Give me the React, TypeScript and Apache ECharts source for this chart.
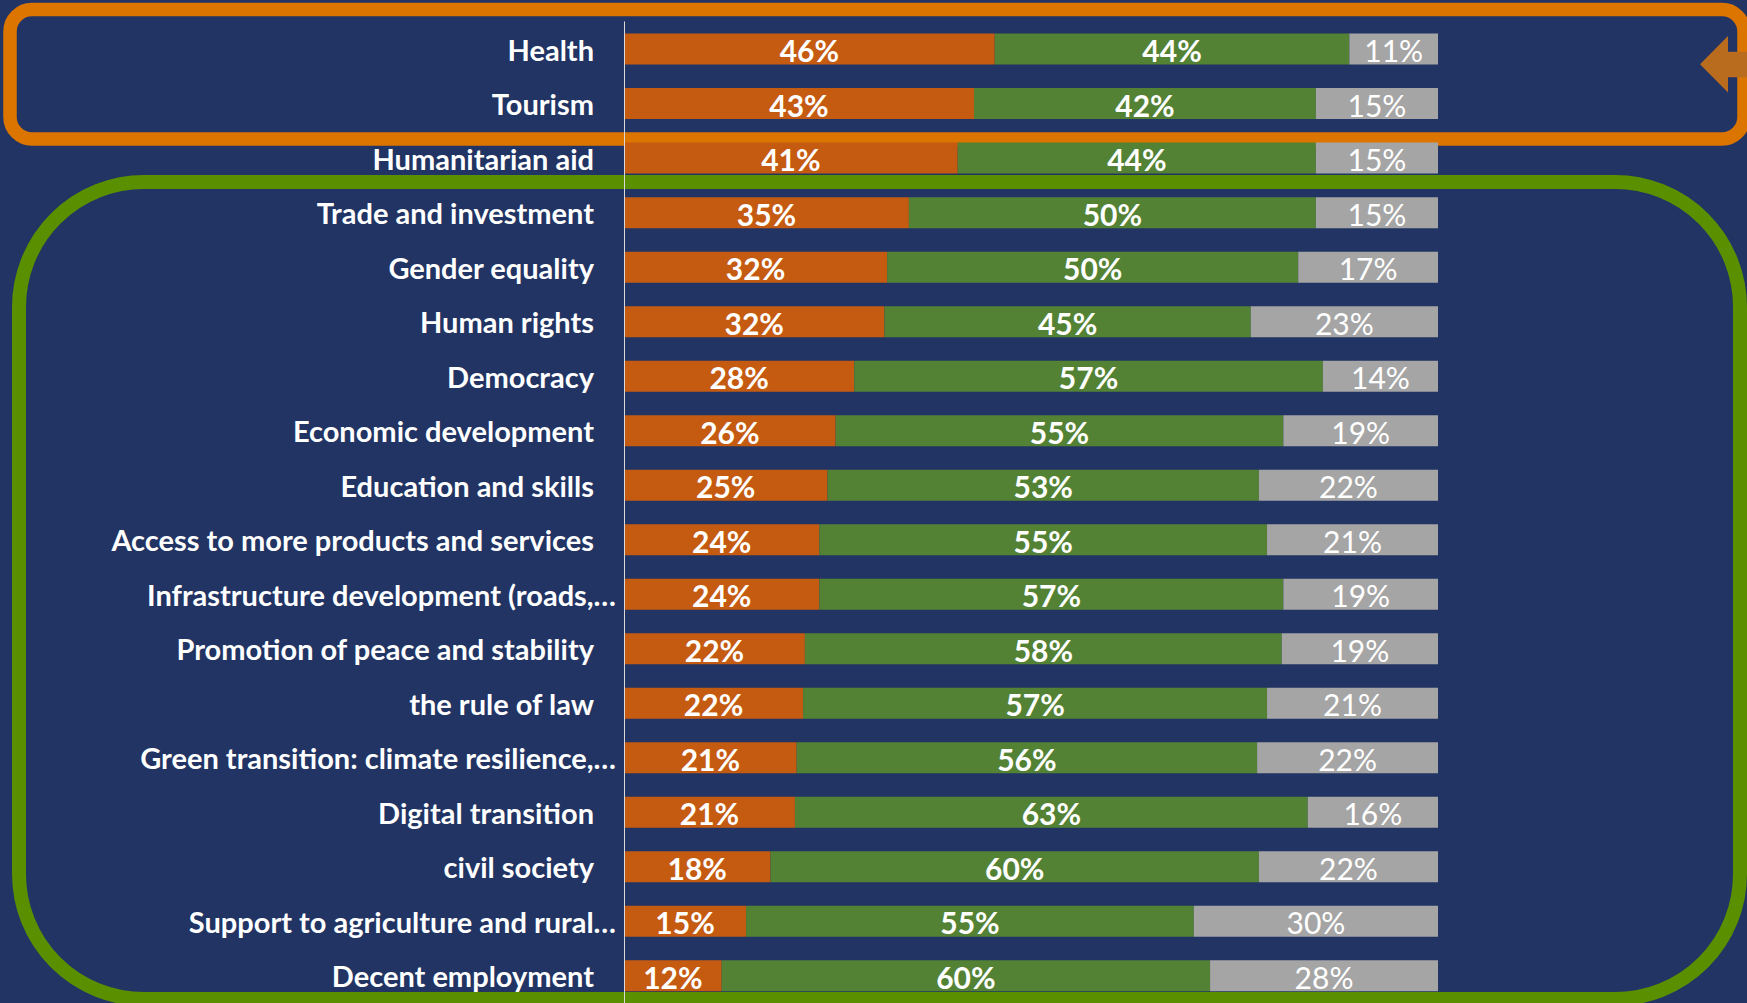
import React, { useEffect, useRef } from "react";
import * as echarts from "echarts";

const categories = [
  "Health",
  "Tourism",
  "Humanitarian aid",
  "Trade and investment",
  "Gender equality",
  "Human rights",
  "Democracy",
  "Economic development",
  "Education and skills",
  "Access to more products and services",
  "Infrastructure development (roads,…",
  "Promotion of peace and stability",
  "the rule of law",
  "Green transition: climate resilience,…",
  "Digital transition",
  "civil society",
  "Support to agriculture and rural…",
  "Decent employment",
];

const orangeValues = [46, 43, 41, 35, 32, 32, 28, 26, 25, 24, 24, 22, 22, 21, 21, 18, 15, 12];
const greenValues = [44, 42, 44, 50, 50, 45, 57, 55, 53, 55, 57, 58, 57, 56, 63, 60, 55, 60];
const greyValues = [11, 15, 15, 15, 17, 23, 14, 19, 22, 21, 19, 19, 21, 22, 16, 22, 30, 28];

const truncatedLabels = [
  "Infrastructure development (roads,…",
  "Green transition: climate resilience,…",
  "Support to agriculture and rural…",
];

const seriesNames = ["Orange", "Green", "Grey"];

const BG = "#213463";
const ORANGE_BAR = "#C55A11";
const GREEN_BAR = "#548235";
const GREY_BAR = "#A5A5A5";
const FONT = "Lato, 'Open Sans', sans-serif";

export default function App() {
  const ref = useRef<HTMLDivElement>(null);

  useEffect(() => {
    if (!ref.current) return;
    const chart = echarts.init(ref.current, undefined, { renderer: "svg" });

    const totals = categories.map((_, i) => orangeValues[i] + greenValues[i] + greyValues[i]);
    const raw = [orangeValues, greenValues, greyValues];
    const colors = [ORANGE_BAR, GREEN_BAR, GREY_BAR];

    const series = raw.map((arr, si) => ({
      name: seriesNames[si],
      type: "bar",
      stack: "total",
      barWidth: 31,
      z: 3,
      itemStyle: { color: colors[si] },
      label: {
        show: true,
        position: "inside",
        offset: [0, 1],
        color: "#FFFFFF",
        fontFamily: FONT,
        fontWeight: si === 2 ? "normal" : "bold",
        fontSize: 30,
        formatter: (p: any) => `${arr[p.dataIndex]}%`,
      },
      data: arr.map((v, i) => (v / totals[i]) * 100),
    }));

    const band = 54.7;
    const firstCenter = 49.2;
    const catFont = 29;

    chart.setOption({
      animation: false,
      backgroundColor: BG,
      grid: {
        left: 624,
        right: 309,
        top: firstCenter - band / 2,
        height: band * categories.length,
        containLabel: false,
      },
      xAxis: {
        type: "value",
        min: 0,
        max: 100,
        show: false,
      },
      yAxis: {
        type: "category",
        data: categories,
        inverse: true,
        z: 6,
        axisLine: { show: true, lineStyle: { color: "#D9D9D9", width: 1 } },
        axisTick: { show: false },
        splitLine: { show: false },
        axisLabel: {
          margin: 8,
          color: "#FFFFFF",
          fontFamily: FONT,
          fontWeight: "bold",
          fontSize: catFont,
          formatter: (v: string) =>
            truncatedLabels.includes(v) ? `{t|${v}}` : `{n|${v}}`,
          rich: {
            n: {
              color: "#FFFFFF",
              fontFamily: FONT,
              fontWeight: "bold",
              fontSize: catFont,
              padding: [0, 22, 0, 0],
            },
            t: {
              color: "#FFFFFF",
              fontFamily: FONT,
              fontWeight: "bold",
              fontSize: catFont,
            },
          },
        },
      },
      graphic: [
        {
          type: "rect",
          z: 1,
          shape: { x: 10, y: 9.5, width: 1734, height: 129.5, r: 22 },
          style: { fill: "none", stroke: "#DB7500", lineWidth: 13.5 },
        },
        {
          type: "rect",
          z: 1,
          shape: { x: 19, y: 182, width: 1721, height: 817, r: 125 },
          style: { fill: "none", stroke: "#5A8F00", lineWidth: 14 },
        },
        {
          type: "polygon",
          z: 2,
          shape: {
            points: [
              [1700, 64.3],
              [1728, 36],
              [1728, 51.7],
              [1747, 51.7],
              [1747, 77.3],
              [1728, 77.3],
              [1728, 92.5],
            ],
          },
          style: { fill: "#B96C1D" },
        },
      ],
      series,
    });

    return () => chart.dispose();
  }, []);

  return (
    <div
      ref={ref}
      style={{ position: "fixed", left: 0, top: 0, width: 1747, height: 1003 }}
    />
  );
}
